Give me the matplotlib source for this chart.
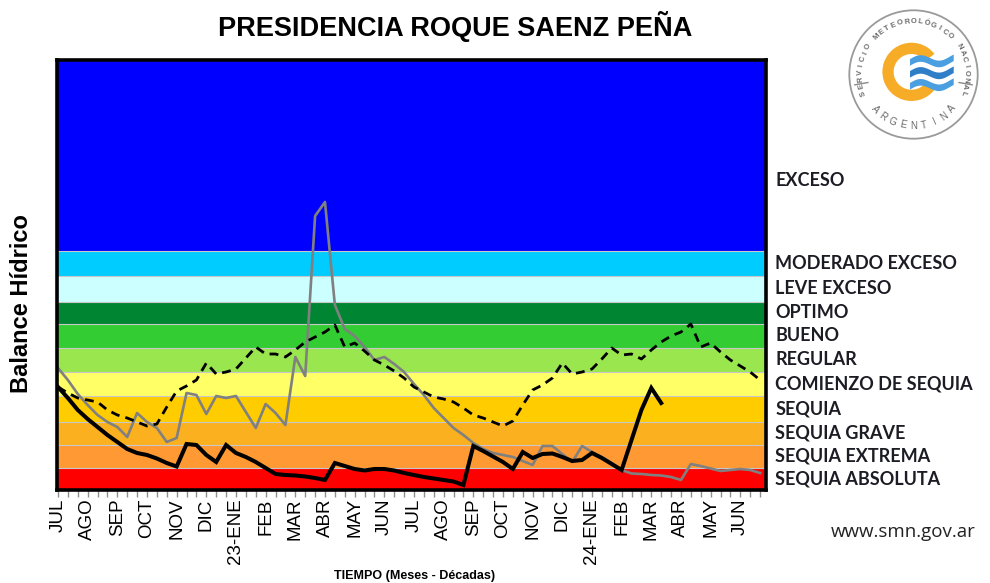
import numpy as np
import matplotlib.pyplot as plt
from matplotlib.patches import Circle, Wedge

# meses (una marca por decada, 3 decadas por mes)
meses = ["JUL", "AGO", "SEP", "OCT", "NOV", "DIC", "23-ENE", "FEB", "MAR", "ABR", "MAY", "JUN",
         "JUL", "AGO", "SEP", "OCT", "NOV", "DIC", "24-ENE", "FEB", "MAR", "ABR", "MAY", "JUN"]

# categorias de abajo hacia arriba
categorias = ["SEQUIA ABSOLUTA", "SEQUIA EXTREMA", "SEQUIA GRAVE", "SEQUIA",
              "COMIENZO DE SEQUIA", "REGULAR", "BUENO", "OPTIMO", "LEVE EXCESO",
              "MODERADO EXCESO", "EXCESO"]
limites = [-1, 21.5, 44, 67.5, 93, 117.5, 141.5, 165, 187.5, 213, 238.5, 429]
colores = ["#FF0000", "#FF9933", "#FBB020", "#FFCC00", "#FFFF66", "#99E64F",
           "#33CC33", "#008533", "#CCFFFF", "#00CCFF", "#0000FF"]

# campaña actual (linea negra)
actual = [102, 91, 79, 70, 62, 54, 47, 40, 36, 34, 30.5, 26, 22.5, 45, 44, 34, 27, 44,
          36, 32, 27, 21, 15, 14, 13.5, 12.5, 11, 9, 26, 23, 20, 18.5, 20, 20, 18.5, 16,
          14, 12, 10.5, 9, 7.5, 4, 43, 38, 32.5, 27, 20, 37, 31, 35, 35.5, 32, 28, 29,
          36, 31, 25, 19, 49, 79, 101, 86]

# campaña anterior (linea gris)
anterior = [121, 109, 95, 84, 74, 67, 62, 52, 76, 67, 61, 47, 51, 96, 94, 75, 93, 91,
            93, 77, 61, 85, 76, 64, 132, 113, 273, 287, 184, 160, 153, 142, 129, 132, 125, 117,
            105, 94, 81, 71, 61, 54, 46, 40, 36, 34, 32, 28, 24, 43, 43, 35, 27, 43,
            37, 32, 26, 19, 15.5, 15, 14, 13.5, 12, 9, 25, 23, 20.5, 18, 19, 20, 19, 16]

# valores medios (linea discontinua)
medio = [102, 96, 91, 89, 87, 79, 74, 71, 67, 63, 65, 82, 98, 103, 109, 126, 115, 117,
         120, 131, 142, 135, 135, 132, 139, 147, 152, 157, 164, 142, 146, 138, 129, 124, 118, 111,
         102, 97, 92, 90, 87, 81, 74, 71, 67, 63, 68, 84, 99, 104, 111, 126, 115, 117,
         120, 130, 141, 134, 135, 130, 139, 147, 153, 157, 165, 142, 146, 137, 129, 123, 117, 109]

fig = plt.figure(figsize=(9.9, 5.83), dpi=100)
ax = fig.add_axes([57 / 990, 93 / 583, 709 / 990, 430 / 583])

for i, c in enumerate(colores):
    ax.axhspan(limites[i], limites[i + 1], color=c, lw=0, zorder=0)
for y in limites[1:-1]:
    ax.axhline(y, color="#C8C8C8", lw=0.8, zorder=1)

x_ant = np.arange(len(anterior))
x_act = np.arange(len(actual))
ax.plot(x_ant, anterior, color="#808080", lw=1.9, zorder=2)
ax.plot(x_ant, medio, color="black", lw=2.0, ls=(0, (3.2, 2.2)), zorder=3)
ax.plot(x_act, actual, color="black", lw=2.9, zorder=4, solid_joinstyle="miter")

ax.set_xlim(-0.1, 71.6)
ax.set_ylim(limites[0], limites[-1])
ax.set_yticks([])
ax.set_xticks(np.arange(0, 72, 3))
ax.set_xticklabels(meses, rotation=90, fontsize=13.5, family="Liberation Sans")
ax.set_xticks(np.arange(0, 72), minor=True)
ax.tick_params(axis="x", which="both", direction="out", length=5, width=1,
               color="#909090", pad=1)
for s in ax.spines.values():
    s.set_linewidth(2.6)
    s.set_color("black")

# etiquetas de categorias a la derecha
for i, nombre in enumerate(categorias):
    lo, hi = limites[i], limites[i + 1]
    yc = (lo + hi) / 2 if i < len(categorias) - 1 else lo + 70
    ax.text(1.013, yc, nombre, transform=ax.get_yaxis_transform(), ha="left", va="center",
            fontsize=13, fontweight="bold", family="Lato", color="#1c1c24", clip_on=False)

fig.text(455 / 990, 1 - 26 / 583, "PRESIDENCIA ROQUE SAENZ PEÑA", ha="center", va="center",
         fontsize=19.5, fontweight="bold", family="Liberation Sans")
fig.text(22 / 990, 1 - 304 / 583, "Balance Hídrico", rotation=90, ha="center", va="center",
         fontsize=17, fontweight="bold", family="Liberation Sans")
fig.text(415 / 990, 1 - 576 / 583, "TIEMPO (Meses - Décadas)", ha="center", va="center",
         fontsize=9, fontweight="bold", family="Liberation Sans")
fig.text(903 / 990, 1 - 532 / 583, "www.smn.gov.ar", ha="center", va="center",
         fontsize=13.5, family="Open Sans", color="#222222")

# logo SMN
lg = fig.add_axes([845 / 990, 1 - 142 / 583, 137 / 990, 135 / 583])
lg.set_xlim(-1.02, 1.02)
lg.set_ylim(-1.02, 1.02)
lg.set_aspect("equal")
lg.axis("off")
lg.add_patch(Circle((0, 0), 0.97, fill=False, ec="#9a9a9a", lw=1.3))
lg.add_patch(Wedge((-0.03, 0.04), 0.44, 38, 322, width=0.17, color="#F7AC28", lw=0))
t = np.linspace(0, 1, 60)
for k, (off, col) in enumerate([(0.2, "#4A9FE0"), (0.02, "#2F7FC8"), (-0.16, "#4A9FE0")]):
    xs = -0.06 + 0.66 * t
    base = off + 0.05 * np.sin(t * 2 * np.pi * 1.1) + 0.04 * t
    lg.fill_between(xs, base - 0.06, base + 0.04, color=col, lw=0)
texto = "SERVICIO METEOROLÓGICO NACIONAL"
angs = np.linspace(200, -20, len(texto))
for ch, a in zip(texto, angs):
    r = 0.8
    lg.text(r * np.cos(np.radians(a)), r * np.sin(np.radians(a)), ch, rotation=a - 90,
            ha="center", va="center", fontsize=5.5, fontweight="bold", color="#6a6a6a",
            family="Liberation Sans")
texto2 = "ARGENTINA"
angs2 = np.linspace(222, 318, len(texto2))
for ch, a in zip(texto2, angs2):
    r = 0.78
    lg.text(r * np.cos(np.radians(a)), r * np.sin(np.radians(a)), ch, rotation=a + 90,
            ha="center", va="center", fontsize=7, color="#6a6a6a", family="Liberation Sans")
for a in (190, 350):
    ca, sa = np.cos(np.radians(a)), np.sin(np.radians(a))
    lg.plot([0.7 * ca, 0.9 * ca], [0.7 * sa, 0.9 * sa], color="#8a8a8a", lw=1)

fig.savefig("out.png", dpi=100)
